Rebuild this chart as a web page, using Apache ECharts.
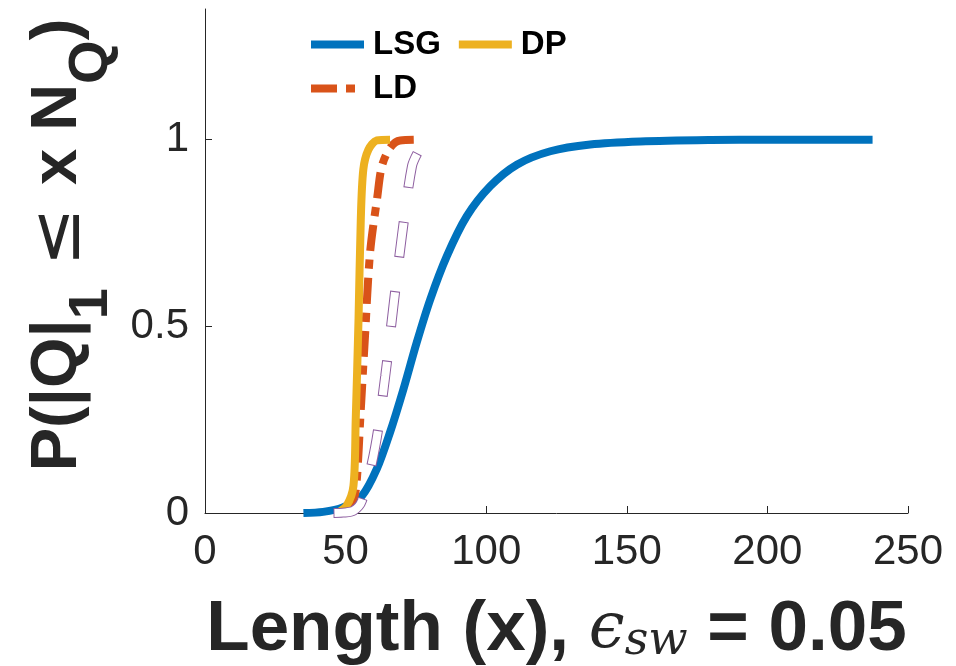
<!doctype html>
<html>
<head>
<meta charset="UTF-8">
<title>CDF of length</title>
<script src="https://cdn.jsdelivr.net/npm/echarts@6/dist/echarts.min.js"></script>
<style>html,body{margin:0;padding:0;background:#fff;}</style>
</head>
<body>
<div id="main" style="width:956px;height:666px;"></div>
<script>
// tick positions
var xTicks = [0, 50, 100, 150, 200, 250];
var yTicks = [0, 0.5, 1];

// curves, [length, probability]
var lsgPts = [[35, 0], [42, 0.003], [49, 0.015], [55.8, 0.046], [61.1, 0.118], [65.8, 0.216],
    [70.5, 0.33], [75.3, 0.457], [80.1, 0.572], [86, 0.688], [93.1, 0.795], [101.4, 0.875],
    [110.9, 0.933], [122.8, 0.969], [137, 0.987], [154.8, 0.995], [180, 0.999], [200, 1], [237.4, 1]];
var ldPts = [[50, 0], [53, 0.04], [54, 0.09], [55.2, 0.25], [56.9, 0.474], [58.7, 0.697],
    [61.3, 0.848], [62.9, 0.929], [65.8, 0.978], [69.4, 0.998], [77.1, 1]];
var dpPts = [[47, 0], [50.4, 0.02], [52.8, 0.073], [53.6, 0.25], [54.6, 0.52], [55.4, 0.786],
    [56.3, 0.92], [58.1, 0.973], [61.1, 0.998], [65.8, 1]];
// white dashed curve with thin purple edge, not in legend
var refPts = [[45.7, 0], [49, 0.001], [52.8, 0.006], [55.8, 0.033], [60.5, 0.176], [64.1, 0.367],
    [67, 0.554], [70, 0.741], [73.6, 0.929], [75.9, 0.969], [77.5, 0.985]];

var font = 'Liberation Sans, Arial, Helvetica, sans-serif';
var ink = '#262626';

function curve(name, pts, color, width, type, z) {
    return {
        name: name,
        type: 'line',
        data: pts,
        symbol: 'none',
        smooth: 0.3,
        z: z,
        lineStyle: {color: color, width: width, type: type, cap: 'butt'},
        itemStyle: {color: color},
        emphasis: {disabled: true}
    };
}

var legendText = {fontSize: 33, fontWeight: 'bold', color: '#000', fontFamily: font, padding: [0, 0, 0, 4]};
var legendBase = {
    left: 307, padding: 0, itemWidth: 53, itemHeight: 10, itemGap: 14, selectedMode: false,
    textStyle: legendText,
    itemStyle: {opacity: 0},
    lineStyle: {width: 8}
};

var myChart = echarts.init(document.getElementById('main'));
var option = {
    animation: false,
    backgroundColor: '#fff',
    grid: {left: 205, right: 48, top: 9, bottom: 153, outerBoundsMode: 'none', containLabel: false},
    legend: [
        Object.assign({data: ['LSG', 'DP'], top: 28}, legendBase),
        Object.assign({data: ['LD'], top: 72}, legendBase)
    ],
    xAxis: {
        type: 'value', min: 0, max: 250, interval: 50,
        axisLine: {lineStyle: {color: ink, width: 1}},
        axisTick: {inside: true, length: 7, customValues: xTicks, lineStyle: {color: ink}},
        axisLabel: {fontSize: 42, color: ink, fontFamily: font, margin: 18, customValues: xTicks},
        splitLine: {show: false},
        name: '{b|Length (x), }{e|ϵ}{s|sw}{b| = 0.05}',
        nameLocation: 'middle',
        nameGap: 82,
        nameTextStyle: {
            rich: {
                b: {fontSize: 71, fontWeight: 'bold', fontFamily: font, color: ink},
                e: {fontSize: 64, fontStyle: 'italic', fontFamily: 'DejaVu Serif', color: ink},
                s: {fontSize: 46, fontStyle: 'italic', fontFamily: 'DejaVu Serif', color: ink, padding: [24, 0, 0, 0]}
            }
        }
    },
    yAxis: {
        type: 'value', min: 0, max: 1.35, interval: 0.5,
        axisLine: {show: true, lineStyle: {color: ink, width: 1}},
        axisTick: {show: true, inside: true, length: 7, customValues: yTicks, lineStyle: {color: ink}},
        axisLabel: {fontSize: 42, color: ink, fontFamily: font, margin: 16, customValues: yTicks},
        splitLine: {show: false},
        name: '{b|P(|Q|}{sub|1}{n| ≤ }{b|x N}{sub|Q}{b|)}',
        nameLocation: 'middle',
        nameRotate: 90,
        nameGap: 84,
        nameTextStyle: {
            padding: [0, 0, 0, 32],
            rich: {
                b: {fontSize: 65, fontWeight: 'bold', fontFamily: font, color: ink, lineHeight: 70, verticalAlign: 'top'},
                n: {fontSize: 70, fontFamily: 'DejaVu Sans', color: ink, lineHeight: 70, verticalAlign: 'top'},
                sub: {fontSize: 56, fontWeight: 'bold', fontFamily: font, color: ink, verticalAlign: 'top', padding: [38, 0, 0, 0]}
            }
        }
    },
    series: [
        curve('LSG', lsgPts, '#0072BD', 8, 'solid', 2),
        curve('LD', ldPts, '#D95319', 8, [26, 9, 9, 9], 3),
        curve('DP', dpPts, '#EDB120', 8, 'solid', 4),
        curve('refEdge', refPts, '#8E5FA0', 10, [36, 34], 5),
        {
            name: 'refFill', type: 'line', data: refPts, symbol: 'none', smooth: 0.3, z: 6,
            lineStyle: {color: '#fff', width: 8, type: [34, 36], dashOffset: -1, cap: 'butt'},
            emphasis: {disabled: true}
        }
    ]
};
myChart.setOption(option);
</script>
</body>
</html>
